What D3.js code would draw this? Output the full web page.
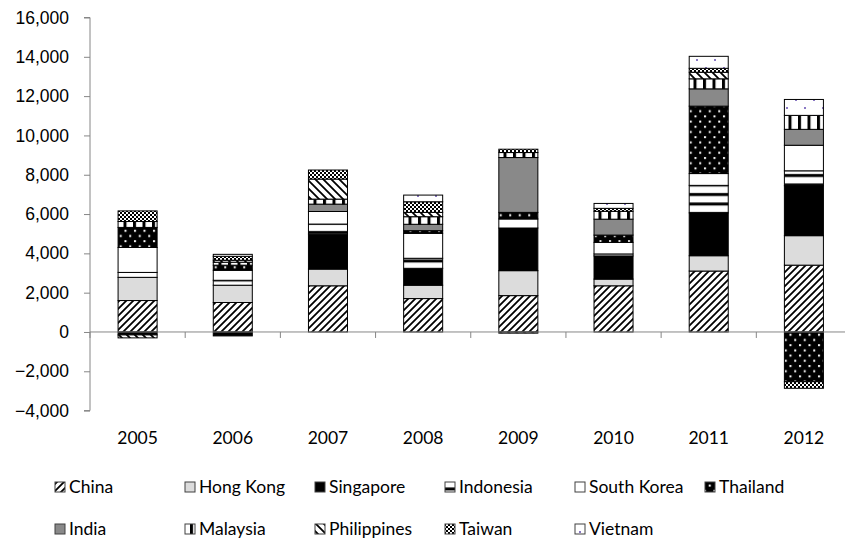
<!DOCTYPE html>
<html>
<head>
<meta charset="utf-8">
<script src="https://cdn.jsdelivr.net/npm/d3@7"></script>
<style>
  html, body { margin: 0; padding: 0; background: #fff; }
  svg { display: block; font-family: Lato, "Noto Sans", sans-serif; }
</style>
</head>
<body>
<svg id="chart" width="845" height="543"></svg>
<script>
// Yearly values by economy (stacked, negatives stack below zero)
const years = ["2005", "2006", "2007", "2008", "2009", "2010", "2011", "2012"];
const china       = [1600, 1500, 2350, 1700, 1850, 2350, 3100, 3400];
const hongKong    = [1180,  880,  850,  680, 1270,  340,  780, 1500];
const singapore   = [-150, -200, 1780,  860, 2170, 1180, 2180, 2540];
const indonesia   = [ 250,  250,  510,  510,    0,  100, 1400,  760];
const southKorea  = [1270,  510,  640, 1270,  460,  590,  600, 1300];
const thailand    = [1020,  260,    0,  135,  335,  370, 3430, -2530];
const india       = [   0,    0,  375,  325, 2790,  810,  880,  810];
const malaysia    = [ 300,  150,  255,  385,  254,  400,  510,  710];
const philippines = [-150,  100, 1020,  220,  -60,    0,  335,    0];
const taiwan      = [ 540,  200,  460,  540,  170,  150,  200, -335];
const vietnam     = [   0,  100,    0,  340,    0,  250,  610,  810];
const yTicks = [-4000, -2000, 0, 2000, 4000, 6000, 8000, 10000, 12000, 14000, 16000];

const series = [
  { name: "China",       values: china,       fill: "url(#p-china)" },
  { name: "Hong Kong",   values: hongKong,    fill: "#dcdcdc" },
  { name: "Singapore",   values: singapore,   fill: "#000000" },
  { name: "Indonesia",   values: indonesia,   fill: "url(#p-indonesia)" },
  { name: "South Korea", values: southKorea,  fill: "#ffffff" },
  { name: "Thailand",    values: thailand,    fill: "url(#p-thailand)" },
  { name: "India",       values: india,       fill: "#898989" },
  { name: "Malaysia",    values: malaysia,    fill: "url(#p-malaysia)" },
  { name: "Philippines", values: philippines, fill: "url(#p-philippines)" },
  { name: "Taiwan",      values: taiwan,      fill: "url(#p-taiwan)" },
  { name: "Vietnam",     values: vietnam,     fill: "url(#p-vietnam)" }
];

const rows = years.map((y, i) => {
  const r = { year: y };
  series.forEach(s => { r[s.name] = s.values[i]; });
  return r;
});

const svg = d3.select("#chart");
const axisColor = "#868686";

// ---- fill patterns ----
const defs = svg.append("defs");
function pattern(id, w, h) {
  return defs.append("pattern").attr("id", id).attr("patternUnits", "userSpaceOnUse")
    .attr("width", w).attr("height", h);
}
{
  const p = pattern("p-china", 7, 7);
  p.append("rect").attr("width", 7).attr("height", 7).attr("fill", "#fff");
  p.append("path").attr("d", "M-2,2 L2,-2 M0,7 L7,0 M5,9 L9,5")
    .attr("stroke", "#000").attr("stroke-width", 1.8);
}
{
  const p = pattern("p-philippines", 8, 8);
  p.append("rect").attr("width", 8).attr("height", 8).attr("fill", "#fff");
  p.append("path").attr("d", "M-2,6 L2,10 M0,0 L8,8 M6,-2 L10,2")
    .attr("stroke", "#000").attr("stroke-width", 1.8);
}
{
  const p = pattern("p-indonesia", 9.5, 9.5);
  p.append("rect").attr("width", 9.5).attr("height", 9.5).attr("fill", "#fff");
  p.append("rect").attr("y", 3).attr("width", 9.5).attr("height", 3).attr("fill", "#000");
}
{
  const p = pattern("p-malaysia", 9.5, 9.5);
  p.append("rect").attr("width", 9.5).attr("height", 9.5).attr("fill", "#fff");
  p.append("rect").attr("x", 0).attr("width", 3).attr("height", 9.5).attr("fill", "#000");
}
{
  const p = pattern("p-thailand", 9.5, 10.4);
  p.append("rect").attr("width", 9.5).attr("height", 10.4).attr("fill", "#000");
  p.append("rect").attr("x", 1).attr("y", 1).attr("width", 2).attr("height", 2).attr("fill", "#fff");
  p.append("rect").attr("x", 5.75).attr("y", 6.2).attr("width", 2).attr("height", 2).attr("fill", "#fff");
}
{
  const p = pattern("p-taiwan", 4, 4);
  p.append("rect").attr("width", 4).attr("height", 4).attr("fill", "#fff");
  p.append("rect").attr("width", 2).attr("height", 2).attr("fill", "#000");
  p.append("rect").attr("x", 2).attr("y", 2).attr("width", 2).attr("height", 2).attr("fill", "#000");
}
{
  const p = pattern("p-vietnam", 18, 16);
  p.append("rect").attr("width", 18).attr("height", 16).attr("fill", "#fff");
  p.append("rect").attr("x", 3).attr("y", 3).attr("width", 2).attr("height", 2).attr("fill", "#8a78c4");
  p.append("rect").attr("x", 12).attr("y", 11).attr("width", 2).attr("height", 2).attr("fill", "#8a78c4");
}

// ---- scales ----
const x = d3.scaleBand().domain(years).range([90, 851.5])
  .paddingInner(0.59).paddingOuter(0.295);
const y = d3.scaleLinear().domain([-4000, 16000]).range([410.6, 17.5]);

const stack = d3.stack().keys(series.map(s => s.name)).offset(d3.stackOffsetDiverging);
const stacked = stack(rows);

// ---- bars ----
const g = svg.append("g");
g.selectAll("g.layer").data(stacked).join("g").attr("class", "layer")
  .attr("fill", (d, i) => series[i].fill)
  .selectAll("rect").data(d => d.filter(v => v[1] - v[0] !== 0)).join("rect")
  .attr("x", d => x(d.data.year))
  .attr("width", x.bandwidth())
  .attr("y", d => y(Math.max(d[0], d[1])))
  .attr("height", d => Math.abs(y(d[0]) - y(d[1])))
  .attr("stroke", "#000").attr("stroke-width", 1);

// ---- y axis ----
const yAxis = svg.append("g").attr("transform", "translate(90,0)")
  .call(d3.axisLeft(y).tickValues(yTicks).tickSize(6).tickPadding(15)
    .tickFormat(d3.format(",")));
yAxis.select(".domain").attr("stroke", axisColor).attr("d", `M-6,${y(16000)}H0V${y(-4000)}H-6`);
yAxis.selectAll(".tick line").attr("stroke", axisColor);
yAxis.selectAll("text").attr("fill", "#000").style("font-size", "17.5px");

// ---- x axis along zero ----
const step = x.step();
const half = (step - x.bandwidth()) / 2;
const bounds = years.map(yr => x(yr) - half).concat([x(years[years.length - 1]) + x.bandwidth() + half]);
const xAxis = svg.append("g");
xAxis.append("line").attr("x1", 90).attr("x2", bounds[bounds.length - 1])
  .attr("y1", y(0)).attr("y2", y(0)).attr("stroke", axisColor);
xAxis.selectAll("line.tk").data(bounds).join("line").attr("class", "tk")
  .attr("x1", d => d).attr("x2", d => d)
  .attr("y1", y(0)).attr("y2", y(0) + 6).attr("stroke", axisColor);
xAxis.selectAll("text").data(years).join("text")
  .attr("x", d => x(d) + x.bandwidth() / 2)
  .attr("y", 444)
  .attr("text-anchor", "middle")
  .style("font-size", "17.5px")
  .text(d => d);

// ---- legend ----
const legendCols = [55, 185, 315, 445, 575, 705];
const legend = svg.append("g");
series.forEach((s, i) => {
  const row = i < 6 ? 0 : 1;
  const col = i < 6 ? i : i - 6;
  const lx = legendCols[col];
  const ly = row === 0 ? 488 : 530;
  legend.append("rect").attr("x", lx).attr("y", ly - 6).attr("width", 10).attr("height", 10)
    .attr("fill", s.fill).attr("stroke", "#404040").attr("stroke-width", 1);
  legend.append("text").attr("x", lx + 14).attr("y", ly + 5)
    .style("font-size", "17.5px").text(s.name);
});
</script>
</body>
</html>
